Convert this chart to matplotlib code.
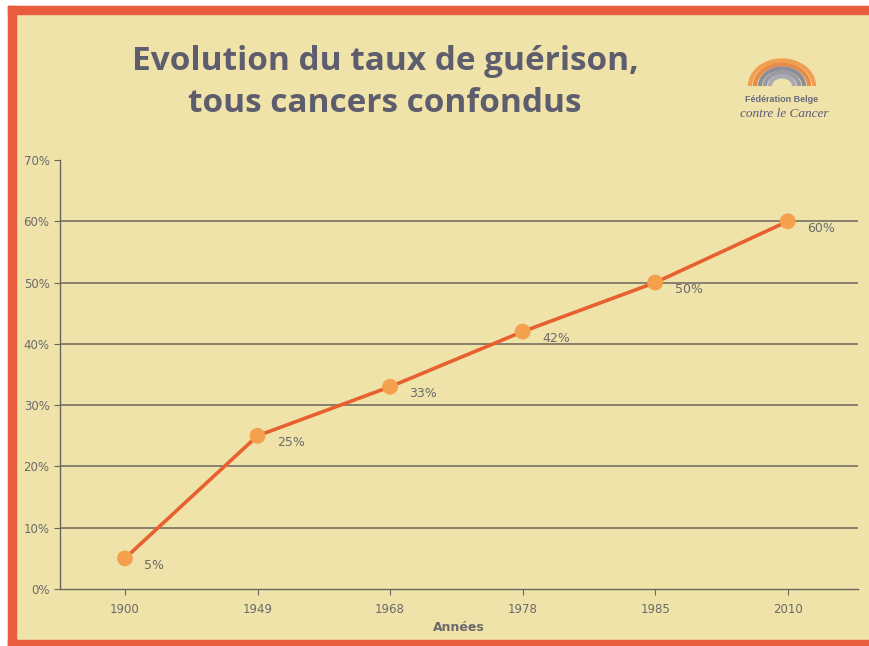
import matplotlib
matplotlib.use("Agg")
import matplotlib.pyplot as plt
from matplotlib.patches import Arc

years = ["1900", "1949", "1968", "1978", "1985", "2010"]
cure_rate = [5, 25, 33, 42, 50, 60]
point_labels = ["5%", "25%", "33%", "42%", "50%", "60%"]
y_ticks = [0, 10, 20, 30, 40, 50, 60, 70]
y_tick_labels = ["0%", "10%", "20%", "30%", "40%", "50%", "60%", "70%"]

BG = "#efe3aa"
BORDER = "#e95c3c"
LINE = "#e8602e"
MARKER = "#f5a04c"
TEXT = "#6a6a6a"
TITLE = "#5e5d6e"

fig = plt.figure(figsize=(8.7, 6.46), dpi=100)
fig.patch.set_facecolor("white")

# beige card with orange frame (left, top, bottom)
card = fig.add_axes([0, 0, 1, 1], zorder=-5)
card.set_xlim(0, 870)
card.set_ylim(646, 0)
card.axis("off")
card.add_patch(plt.Rectangle((8, 6), 870, 640, color=BG))
card.add_patch(plt.Rectangle((8, 6), 8, 640, color=BORDER))
card.add_patch(plt.Rectangle((8, 6), 870, 8, color=BORDER))
card.add_patch(plt.Rectangle((8, 640), 870, 6, color=BORDER))

# logo: rainbow arcs + name
cx, cy = 782, 86
for r, col in [(32, "#f0a050"), (27, "#e88a48"), (22, "#8d8d99"), (17, "#9a9aa6"), (12, "#aaaab4")]:
    card.add_patch(Arc((cx, cy), 2 * r, 1.6 * r, theta1=180, theta2=360,
                       color=col, lw=3.0))
card.text(782, 99, "Fédération Belge", ha="center", va="center", fontsize=6.5,
          fontweight="bold", color="#6a6a80", family="Liberation Sans")
card.text(784, 114, "contre le Cancer", ha="center", va="center", fontsize=9.5,
          style="italic", color="#5c5b78", family="Liberation Serif")

# title
card.text(385, 62, "Evolution du taux de guérison,", ha="center", va="center",
          fontsize=24, fontweight="bold", color=TITLE, family="Open Sans")
card.text(385, 103, "tous cancers confondus", ha="center", va="center",
          fontsize=24, fontweight="bold", color=TITLE, family="Open Sans")

ax = fig.add_axes([60 / 870, 1 - 589 / 646, (858 - 60) / 870, (589 - 160) / 646])
ax.set_facecolor("none")
x = list(range(len(years)))
ax.set_xlim(-0.49, 5.53)
ax.set_ylim(0, 70)

for v in y_ticks[1:-1]:
    ax.axhline(v, color="#6b675c", lw=1.1, zorder=1)

ax.plot(x, cure_rate, color=LINE, lw=2.6, zorder=3, solid_capstyle="round")
ax.scatter(x, cure_rate, s=130, color=MARKER, zorder=4, edgecolors="none")
for xi, yi, lab in zip(x, cure_rate, point_labels):
    ax.annotate(lab, (xi, yi), xytext=(14, -5), textcoords="offset points",
                ha="left", va="center", fontsize=9, color=TEXT)

ax.set_xticks(x)
ax.set_xticklabels(years)
ax.set_yticks(y_ticks)
ax.set_yticklabels(y_tick_labels)
ax.tick_params(axis="both", colors="#6b675c", labelcolor=TEXT, labelsize=8.5,
               length=4, width=0.8)
ax.tick_params(axis="x", pad=6)
for side in ("top", "right"):
    ax.spines[side].set_visible(False)
for side in ("left", "bottom"):
    ax.spines[side].set_color("#6b675c")
    ax.spines[side].set_linewidth(1.0)
ax.set_xlabel("Années", fontsize=9, color=TEXT, fontweight="bold", labelpad=4)

fig.savefig("out.png", dpi=100, facecolor=fig.get_facecolor())
